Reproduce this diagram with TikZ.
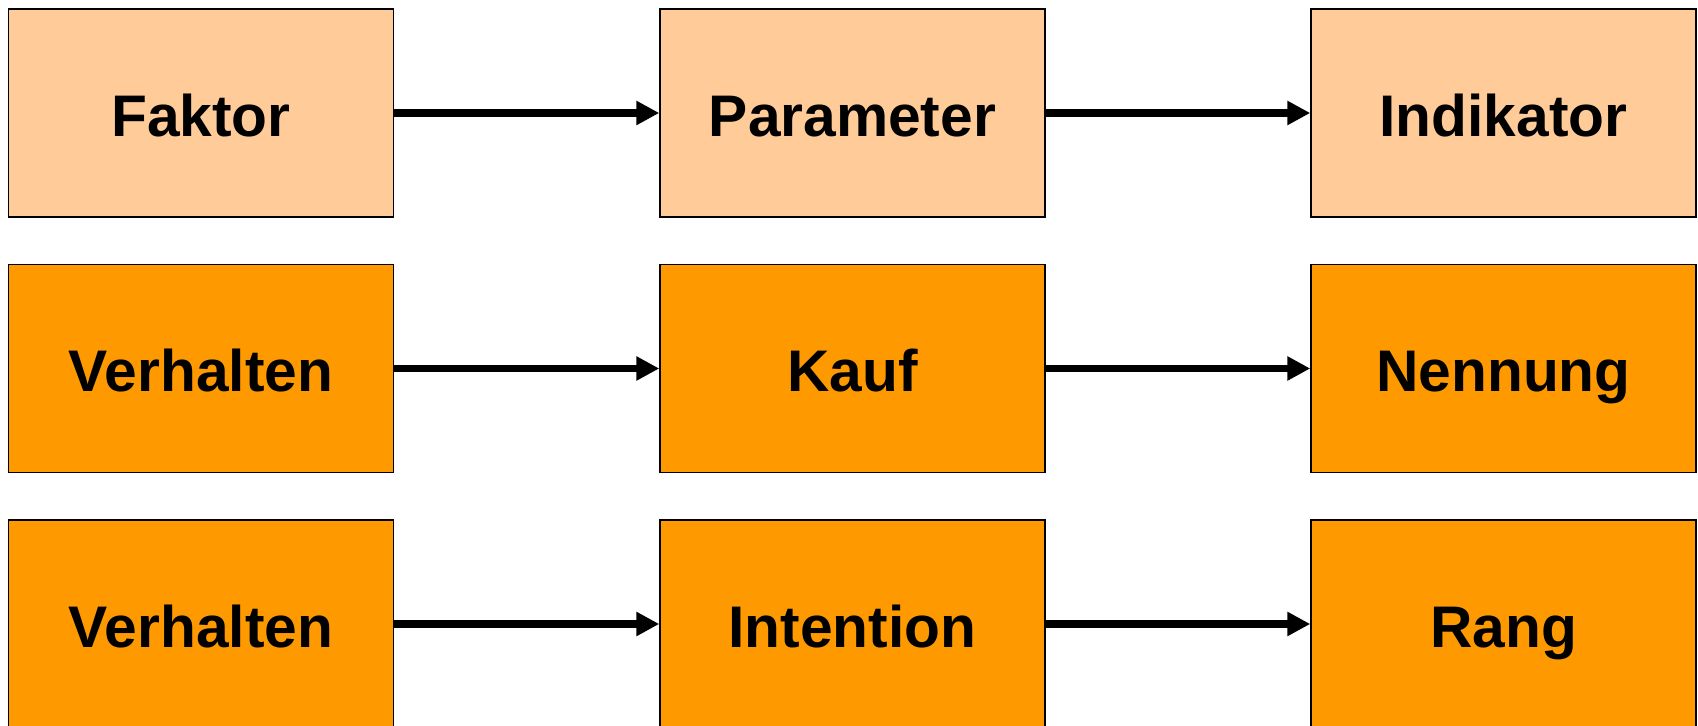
\documentclass[tikz,border=0pt]{standalone}
\usepackage{fontspec}
\setmainfont{Liberation Sans}
\usetikzlibrary{arrows.meta,positioning}

\definecolor{hellorange}{HTML}{FFCC99}
\definecolor{vollorange}{HTML}{FF9900}

\tikzset{
  kasten/.style={draw=black, line width=0.85pt, minimum width=7.70cm, minimum height=4.16cm,
                 inner sep=0pt, text height=26.7pt, text depth=0pt,
                 font=\fontsize{33.4}{40}\selectfont\bfseries},
  lite/.style={kasten, fill=hellorange},
  voll/.style={kasten, fill=vollorange},
  pfeil/.style={line width=4.5pt, -{Triangle[length=13pt,width=13pt]}, shorten >=0pt}
}

\begin{document}
\begin{tikzpicture}
\useasboundingbox (0,0) rectangle (33.96,14.52);

% Zeile 1
\node[lite] (a1) at ( 4.02,12.26) {Faktor};
\node[lite] (b1) at (17.05,12.26) {Parameter};
\node[lite] (c1) at (30.07,12.26) {Indikator};

% Zeile 2
\node[voll] (a2) at ( 4.02, 7.15) {Verhalten};
\node[voll] (b2) at (17.05, 7.15) {Kauf};
\node[voll] (c2) at (30.07, 7.15) {Nennung};

% Zeile 3
\node[voll] (a3) at ( 4.02, 2.04) {Verhalten};
\node[voll] (b3) at (17.05, 2.04) {Intention};
\node[voll] (c3) at (30.07, 2.04) {Rang};

\foreach \r in {1,2,3} {
  \draw[pfeil] (a\r.east)--(b\r.west);
  \draw[pfeil] (b\r.east)--(c\r.west);
}
\end{tikzpicture}
\end{document}
